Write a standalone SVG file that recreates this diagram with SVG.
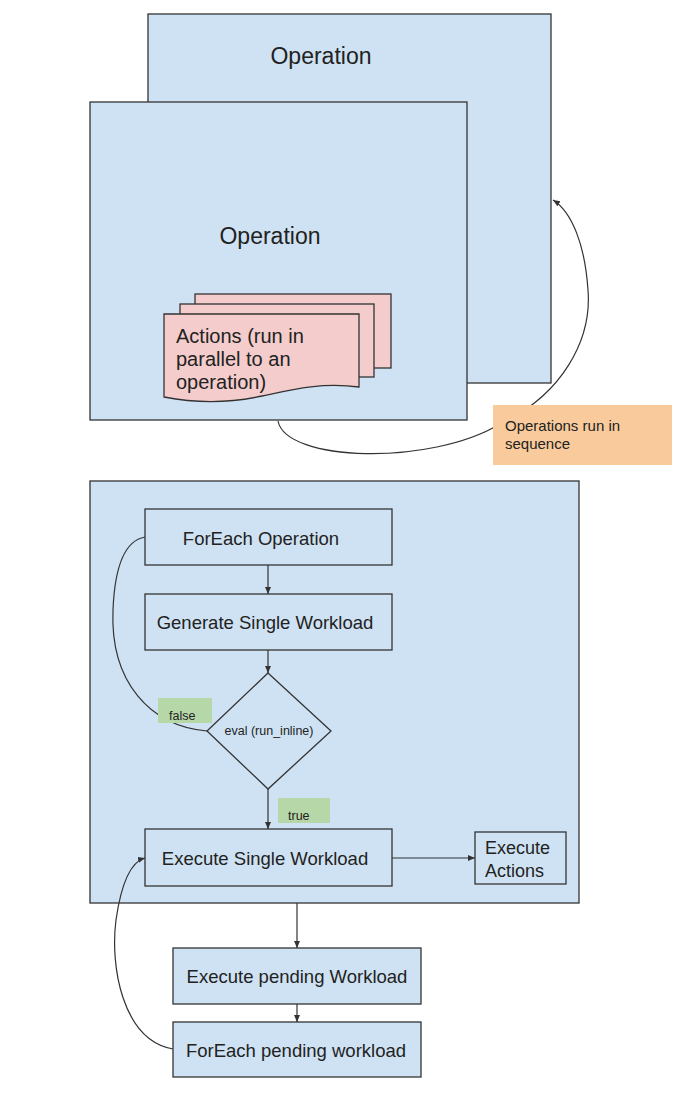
<svg xmlns="http://www.w3.org/2000/svg" width="678" height="1114" viewBox="0 0 678 1114">
<defs>
<style>
.box{fill:#cfe2f3;stroke:#333;stroke-width:1.3}
.doc{fill:#f4cccc;stroke:#333;stroke-width:1.3}
.t{font-family:"Liberation Sans",Arial,sans-serif;fill:#222}
.n{font-size:18.5px;text-anchor:middle}
.c{stroke:#333;stroke-width:1.2;fill:none}
.lbl{fill:#b6d7a8}
</style>
<marker id="ah" markerWidth="8" markerHeight="8" refX="7" refY="4" orient="auto" markerUnits="userSpaceOnUse">
<path d="M0,1 L7,4 L0,7 Z" fill="#333"/>
</marker>
</defs>
<rect width="678" height="1114" fill="#fff"/>

<g id="connectors-top">
<path class="c" d="M278,421 C286,462 430,466 500,424 C562,395 592,340 588,290 C585,245 572,212 553,200" marker-end="url(#ah)"/>
</g>

<g id="op-back">
<rect class="box" x="148" y="14" width="403" height="369"/>
<text class="t" x="321" y="64" font-size="23" text-anchor="middle">Operation</text>
</g>
<g id="op-front">
<rect class="box" x="90" y="102" width="377" height="318"/>
<text class="t" x="270" y="244" font-size="23" text-anchor="middle">Operation</text>
</g>
<g id="actions">
<rect class="doc" x="195" y="294" width="196" height="74"/>
<rect class="doc" x="180" y="304" width="194" height="73"/>
<path class="doc" d="M164,314 H359 V387 C320,382 290,390 262,396 C230,403 195,403 164,397 Z"/>
<text class="t" font-size="20"><tspan x="176" y="343">Actions (run in</tspan><tspan x="176" y="366">parallel to an</tspan><tspan x="176" y="389">operation)</tspan></text>
</g>
<g id="note">
<rect x="493" y="405" width="179" height="60" fill="#f9cb9c"/>
<text class="t" font-size="15"><tspan x="505" y="431">Operations run in</tspan><tspan x="505" y="449">sequence</tspan></text>
</g>

<g id="panel">
<rect class="box" x="90" y="481" width="489" height="422"/>
</g>

<g id="connectors">
<path class="c" d="M268,565 V594" marker-end="url(#ah)"/>
<path class="c" d="M268,650 V673" marker-end="url(#ah)"/>
<path class="c" d="M268,789 V829" marker-end="url(#ah)"/>
<path class="c" d="M207,731 C150,726 110,682 113,610 C115,560 128,540 145,537"/>
<path class="c" d="M392,858 H475" marker-end="url(#ah)"/>
<path class="c" d="M297,903 V948" marker-end="url(#ah)"/>
<path class="c" d="M297,1004 V1022" marker-end="url(#ah)"/>
<path class="c" d="M173,1049 C122,1040 110,965 116,920 C121,885 130,862 145,858" marker-end="url(#ah)"/>
</g>

<g id="foreach-op">
<rect class="box" x="145" y="509" width="247" height="56"/>
<text class="t n" x="261" y="545">ForEach Operation</text>
</g>
<g id="generate">
<rect class="box" x="145" y="594" width="247" height="56"/>
<text class="t n" x="265" y="629">Generate Single Workload</text>
</g>
<g id="decision">
<path class="box" d="M268,673 L331,731 L268,789 L207,731 Z"/>
<text class="t" x="269" y="735" font-size="12.5" text-anchor="middle">eval (run_inline)</text>
</g>
<g id="false-label">
<rect class="lbl" x="158" y="698" width="54" height="25"/>
<text class="t" x="169" y="720" font-size="12.5">false</text>
</g>
<g id="true-label">
<rect class="lbl" x="278" y="798" width="52" height="25"/>
<text class="t" x="288" y="820" font-size="12.5">true</text>
</g>
<g id="exec-single">
<rect class="box" x="145" y="829" width="247" height="57"/>
<text class="t n" x="265" y="865">Execute Single Workload</text>
</g>
<g id="exec-actions">
<rect class="box" x="475" y="832" width="91" height="52"/>
<text class="t" font-size="18"><tspan x="485" y="854">Execute</tspan><tspan x="485" y="877">Actions</tspan></text>
</g>
<g id="exec-pending">
<rect class="box" x="173" y="948" width="248" height="56"/>
<text class="t n" x="297" y="983">Execute pending Workload</text>
</g>
<g id="foreach-pending">
<rect class="box" x="173" y="1022" width="248" height="55"/>
<text class="t n" x="296" y="1057">ForEach pending workload</text>
</g>
</svg>
